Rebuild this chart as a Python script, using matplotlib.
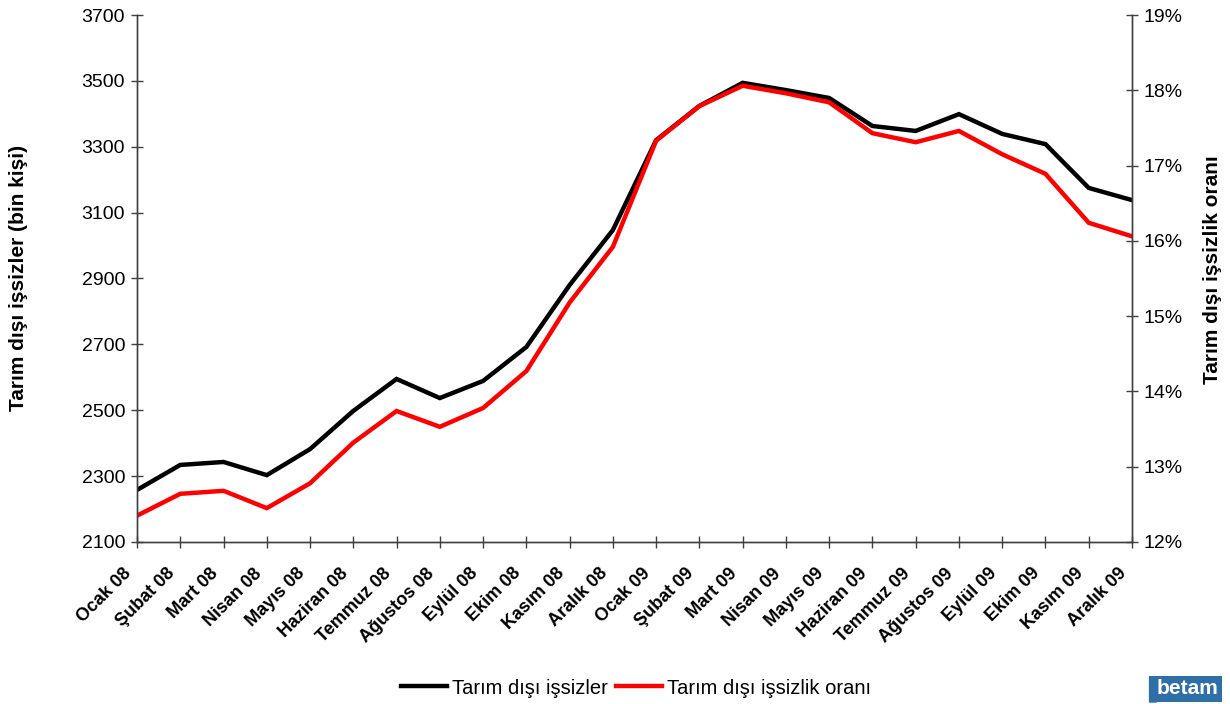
import matplotlib
matplotlib.use("Agg")
import matplotlib.pyplot as plt
import matplotlib.transforms as mtransforms
from matplotlib.ticker import FuncFormatter

plt.rcParams['font.family'] = ['Liberation Sans', 'DejaVu Sans']

# --- data ---
months = ["Ocak 08", "Şubat 08", "Mart 08", "Nisan 08", "Mayıs 08", "Haziran 08",
          "Temmuz 08", "Ağustos 08", "Eylül 08", "Ekim 08", "Kasım 08", "Aralık 08",
          "Ocak 09", "Şubat 09", "Mart 09", "Nisan 09", "Mayıs 09", "Haziran 09",
          "Temmuz 09", "Ağustos 09", "Eylül 09", "Ekim 09", "Kasım 09", "Aralık 09"]

unemployed = [2258, 2334, 2343, 2303, 2382, 2498, 2595, 2537, 2589, 2692, 2880, 3047,
              3320, 3424, 3494, 3472, 3448, 3363, 3348, 3399, 3339, 3308, 3175, 3138]

rate = [12.35, 12.64, 12.68, 12.45, 12.78, 13.32, 13.74, 13.53, 13.78, 14.27, 15.18, 15.92,
        17.33, 17.79, 18.06, 17.96, 17.84, 17.43, 17.31, 17.46, 17.15, 16.89, 16.24, 16.06]

left_ticks = [2100, 2300, 2500, 2700, 2900, 3100, 3300, 3500, 3700]
right_ticks = [12, 13, 14, 15, 16, 17, 18, 19]

axis_col = '#404040'

fig = plt.figure(figsize=(12.3, 7.04), dpi=100)
ax = fig.add_axes([137/1230, 1 - 542/704, (1132 - 137)/1230, (542 - 15)/704])
ax2 = ax.twinx()

x = list(range(len(months)))
l1, = ax.plot(x, unemployed, color='black', lw=3.2, solid_joinstyle='miter',
              label='Tarım dışı işsizler')
l2, = ax2.plot(x, rate, color='#ff0000', lw=3.2, solid_joinstyle='miter',
               label='Tarım dışı işsizlik oranı')

ax.set_xlim(0, len(months) - 1)
ax.set_ylim(2100, 3700)
ax2.set_ylim(12, 19)
ax.set_yticks(left_ticks)
ax2.set_yticks(right_ticks)
ax2.yaxis.set_major_formatter(FuncFormatter(lambda v, p: f"{v:.0f}%"))

for a in (ax, ax2):
    a.spines['top'].set_visible(False)
    for s in ('left', 'right', 'bottom'):
        a.spines[s].set_color(axis_col)
        a.spines[s].set_linewidth(1)
    a.tick_params(direction='inout', length=9, width=1, color=axis_col)
ax.tick_params(axis='x', pad=12)
ax.tick_params(axis='y', pad=4)
ax2.tick_params(axis='y', pad=4)

ax.set_xticks(x)
ax.set_xticklabels(months, rotation=45, ha='right', rotation_mode='anchor',
                   fontsize=13, fontweight='bold')
# labels end a little left of their tick, like the original
shift = mtransforms.ScaledTranslation(-14/100, 0, fig.dpi_scale_trans)
for lab in ax.get_xticklabels():
    lab.set_transform(lab.get_transform() + shift)
for lab in ax.get_yticklabels():
    lab.set_fontsize(14)
for lab in ax2.get_yticklabels():
    lab.set_fontsize(14)

fig.text(19/1230, 1 - 278/704, 'Tarım dışı işsizler (bin kişi)', rotation=90,
         ha='center', va='center', fontsize=15, fontweight='bold')
fig.text(1213/1230, 1 - 270/704, 'Tarım dışı işsizlik oranı', rotation=90,
         ha='center', va='center', fontsize=15, fontweight='bold')

fig.legend(handles=[l1, l2], loc='center', bbox_to_anchor=(636/1230, 1 - 688/704),
           ncol=2, frameon=False, fontsize=14.5, handlelength=2.3, handletextpad=0.25,
           columnspacing=0.4)

# logo in the corner
fig.text(1140/1230, 1 - 689/704, '\u2590', ha='left', va='center', fontsize=16,
         color='#2f6fa8')
fig.text(1157/1230, 1 - 689/704, 'betam', ha='left', va='center', fontsize=15,
         fontweight='bold', color='white',
         bbox=dict(boxstyle='square,pad=0.15', fc='#2f6fa8', ec='none'))

fig.savefig('out.png', dpi=100)
